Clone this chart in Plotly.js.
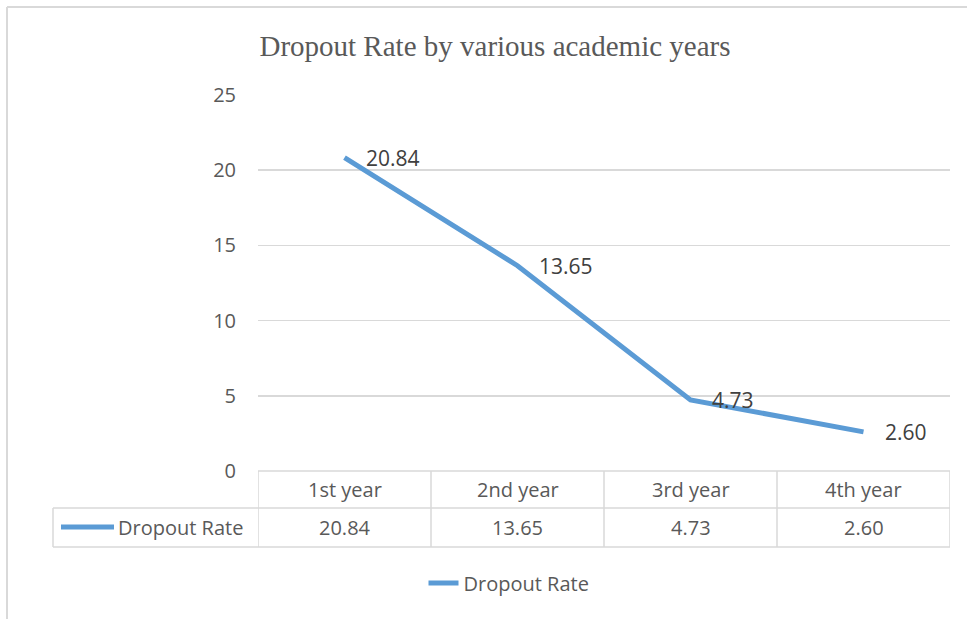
<!DOCTYPE html>
<html>
<head>
<meta charset="utf-8">
<script src="https://cdn.plot.ly/plotly-3.0.1.min.js"></script>
<style>html,body{margin:0;padding:0;background:#fff;}#chart{width:967px;height:619px;}</style>
</head>
<body>
<div id="chart"></div>
<script>
const categories = ["1st year", "2nd year", "3rd year", "4th year"];
const dropoutRate = [20.84, 13.65, 4.73, 2.60];
const seriesName = "Dropout Rate";
const yTicks = [0, 5, 10, 15, 20, 25];

const W = 967, H = 619;
const L = 258, R = 950, T = 95, B = 471;
const px = v => (v - L) / (R - L);
const py = v => (B - v) / (B - T);
const gridColor = "#d9d9d9";
const textColor = "#595959";
const lineColor = "#5b9bd5";
const font = "Open Sans, Liberation Sans, sans-serif";

const xIdx = categories.map((c, i) => i);

const shapes = [];
// outer chart frame
shapes.push({type: "line", xref: "paper", yref: "paper", x0: px(7), x1: px(7), y0: py(7), y1: py(640), line: {color: gridColor, width: 2}});
shapes.push({type: "line", xref: "paper", yref: "paper", x0: px(7), x1: px(990), y0: py(7), y1: py(7), line: {color: gridColor, width: 2}});
// table rows
const rowTop = 471, rowMid = 508, rowBot = 547, tableLeft = 53;
shapes.push({type: "line", xref: "x", yref: "paper", x0: -0.5, x1: categories.length - 0.5, y0: py(rowTop), y1: py(rowTop), line: {color: gridColor, width: 1.5}});
shapes.push({type: "line", xref: "paper", yref: "paper", x0: px(tableLeft), x1: 1, y0: py(rowMid), y1: py(rowMid), line: {color: gridColor, width: 1.5}});
shapes.push({type: "line", xref: "paper", yref: "paper", x0: px(tableLeft), x1: 1, y0: py(rowBot), y1: py(rowBot), line: {color: gridColor, width: 1.5}});
shapes.push({type: "line", xref: "paper", yref: "paper", x0: px(tableLeft), x1: px(tableLeft), y0: py(rowMid), y1: py(rowBot), line: {color: gridColor, width: 1.5}});
for (let i = 0; i <= categories.length; i++) {
  shapes.push({type: "line", xref: "x", yref: "paper", x0: i - 0.5, x1: i - 0.5, y0: py(rowTop), y1: py(rowBot), line: {color: gridColor, width: 1.5}});
}
// legend key in table
shapes.push({type: "line", xref: "paper", yref: "paper", x0: px(61), x1: px(114), y0: py(527), y1: py(527), line: {color: lineColor, width: 5}});

const annotations = [];
// data labels
dropoutRate.forEach((v, i) => {
  annotations.push({x: i, y: v, xref: "x", yref: "y", text: v.toFixed(2), showarrow: false, xanchor: "left", yanchor: "middle", xshift: 19, font: {family: font, size: 21, color: "#404040"}});
});
// table header and values
categories.forEach((c, i) => {
  annotations.push({x: i, y: py((rowTop + rowMid) / 2), xref: "x", yref: "paper", text: c, showarrow: false, xanchor: "center", yanchor: "middle", font: {family: font, size: 20, color: textColor}});
  annotations.push({x: i, y: py((rowMid + rowBot) / 2), xref: "x", yref: "paper", text: dropoutRate[i].toFixed(2), showarrow: false, xanchor: "center", yanchor: "middle", font: {family: font, size: 20, color: textColor}});
});
annotations.push({x: px(116), y: py((rowMid + rowBot) / 2), xref: "paper", yref: "paper", text: seriesName, showarrow: false, xanchor: "left", yanchor: "middle", font: {family: font, size: 20, color: textColor}});

const trace = {
  x: xIdx, y: dropoutRate, type: "scatter", mode: "lines", name: seriesName,
  line: {color: lineColor, width: 5}, hoverinfo: "skip"
};

const layout = {
  width: W, height: H,
  margin: {l: L, r: W - R, t: T, b: H - B, pad: 0},
  paper_bgcolor: "#fff", plot_bgcolor: "#fff",
  title: {text: "Dropout Rate by various academic years", x: px(495), xref: "paper", xanchor: "center", y: 1 - 46 / H, yref: "container", yanchor: "middle", font: {family: "Liberation Serif, Times New Roman, serif", size: 29, color: textColor}},
  xaxis: {range: [-0.5, categories.length - 0.5], showticklabels: false, showgrid: false, zeroline: false, showline: false, ticks: "", fixedrange: true},
  yaxis: {range: [0, 25], tickvals: yTicks, ticktext: yTicks.map(String), showgrid: true, gridcolor: gridColor, gridwidth: 1.5, zeroline: false, showline: false, ticks: "", ticklabelstandoff: 21, tickfont: {family: font, size: 20, color: textColor}, fixedrange: true},
  showlegend: true,
  legend: {orientation: "h", x: px(509), xanchor: "center", y: py(583), yanchor: "middle", font: {family: font, size: 20, color: textColor}, bgcolor: "rgba(0,0,0,0)"},
  shapes: shapes,
  annotations: annotations
};

Plotly.newPlot("chart", [trace], layout, {displayModeBar: false, staticPlot: true});
</script>
</body>
</html>
